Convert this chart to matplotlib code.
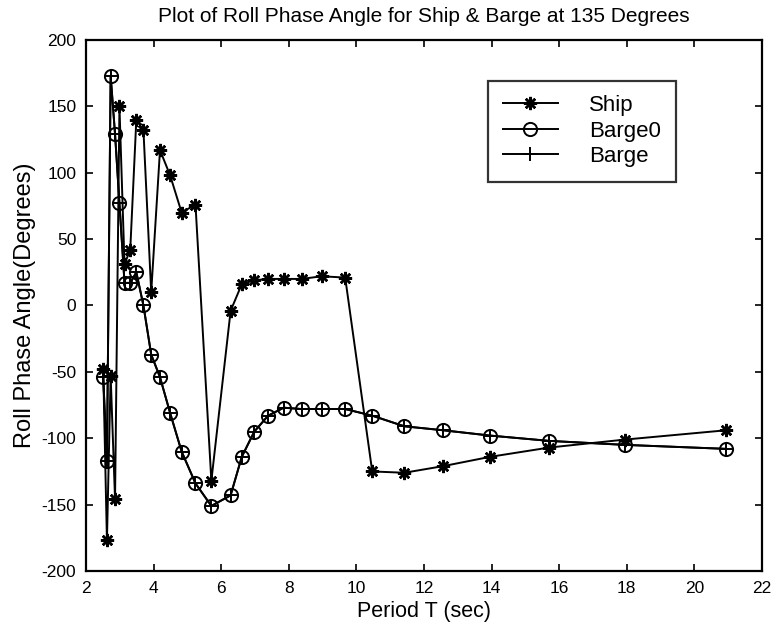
import matplotlib
matplotlib.use("Agg")
import matplotlib.pyplot as plt

period = [2.51, 2.62, 2.73, 2.86, 2.99, 3.14, 3.31, 3.49, 3.70, 3.93, 4.19, 4.49,
          4.83, 5.24, 5.71, 6.28, 6.61, 6.98, 7.39, 7.85, 8.38, 8.98, 9.67, 10.47,
          11.42, 12.57, 13.96, 15.71, 17.95, 20.94]

ship = [-48, -177, -53, -146, 150, 31, 42, 140, 132, 10, 117, 98,
        70, 76, -132, -4, 16, 19, 20, 20, 20, 22, 21, -125,
        -126, -121, -114, -107, -101, -94]

barge0 = [-54, -117, 173, 129, 77, 17, 17, 25, 0, -37, -54, -81,
          -110, -134, -151, -143, -114, -95, -83, -77, -78, -78, -78, -83,
          -91, -94, -98, -102, -105, -108]

barge = [-54, -117, 173, 129, 77, 17, 17, 25, 0, -37, -54, -81,
         -110, -134, -151, -143, -114, -95, -83, -77, -78, -78, -78, -83,
         -91, -94, -98, -102, -105, -108]

xticks = [2, 4, 6, 8, 10, 12, 14, 16, 18, 20, 22]
yticks = [-200, -150, -100, -50, 0, 50, 100, 150, 200]

plt.rcParams['font.family'] = ['Liberation Sans', 'DejaVu Sans']
plt.rcParams['axes.unicode_minus'] = False

fig = plt.figure(figsize=(7.76, 6.27), dpi=100)
ax = fig.add_axes([0.1108, 0.0893, 0.871, 0.847])

lw = 1.4
ax.plot(period, ship, color='black', lw=lw, marker=(8, 2, 0), markersize=9.5,
        markeredgewidth=1.8, label='Ship')
ax.plot(period, barge0, color='black', lw=lw, marker='o', markersize=9.5,
        markerfacecolor='none', markeredgewidth=1.4, label='Barge0')
ax.plot(period, barge, color='black', lw=lw, marker='+', markersize=10.5,
        markeredgewidth=1.4, label='Barge')

ax.set_xlim(2, 22)
ax.set_ylim(-200, 200)
ax.set_xticks(xticks)
ax.set_yticks(yticks)
ax.tick_params(direction='in', length=5, width=1.2, top=True, right=True,
               labelsize=12.5, pad=7)
for s in ax.spines.values():
    s.set_linewidth(1.6)

ax.set_title('Plot of Roll Phase Angle for Ship & Barge at 135 Degrees',
             fontsize=15, pad=13)
ax.set_xlabel('Period T (sec)', fontsize=15.5, labelpad=4)
ax.set_ylabel('Roll Phase Angle(Degrees)', fontsize=17, labelpad=4)

leg = ax.legend(loc='upper left', bbox_to_anchor=(0.595, 0.923), fontsize=16,
                frameon=True, fancybox=False, edgecolor='black',
                handlelength=2.5, handletextpad=1.4, borderpad=0.65,
                labelspacing=0.2, borderaxespad=0)
leg.get_frame().set_linewidth(1.6)

fig.savefig('out.png', dpi=100)
